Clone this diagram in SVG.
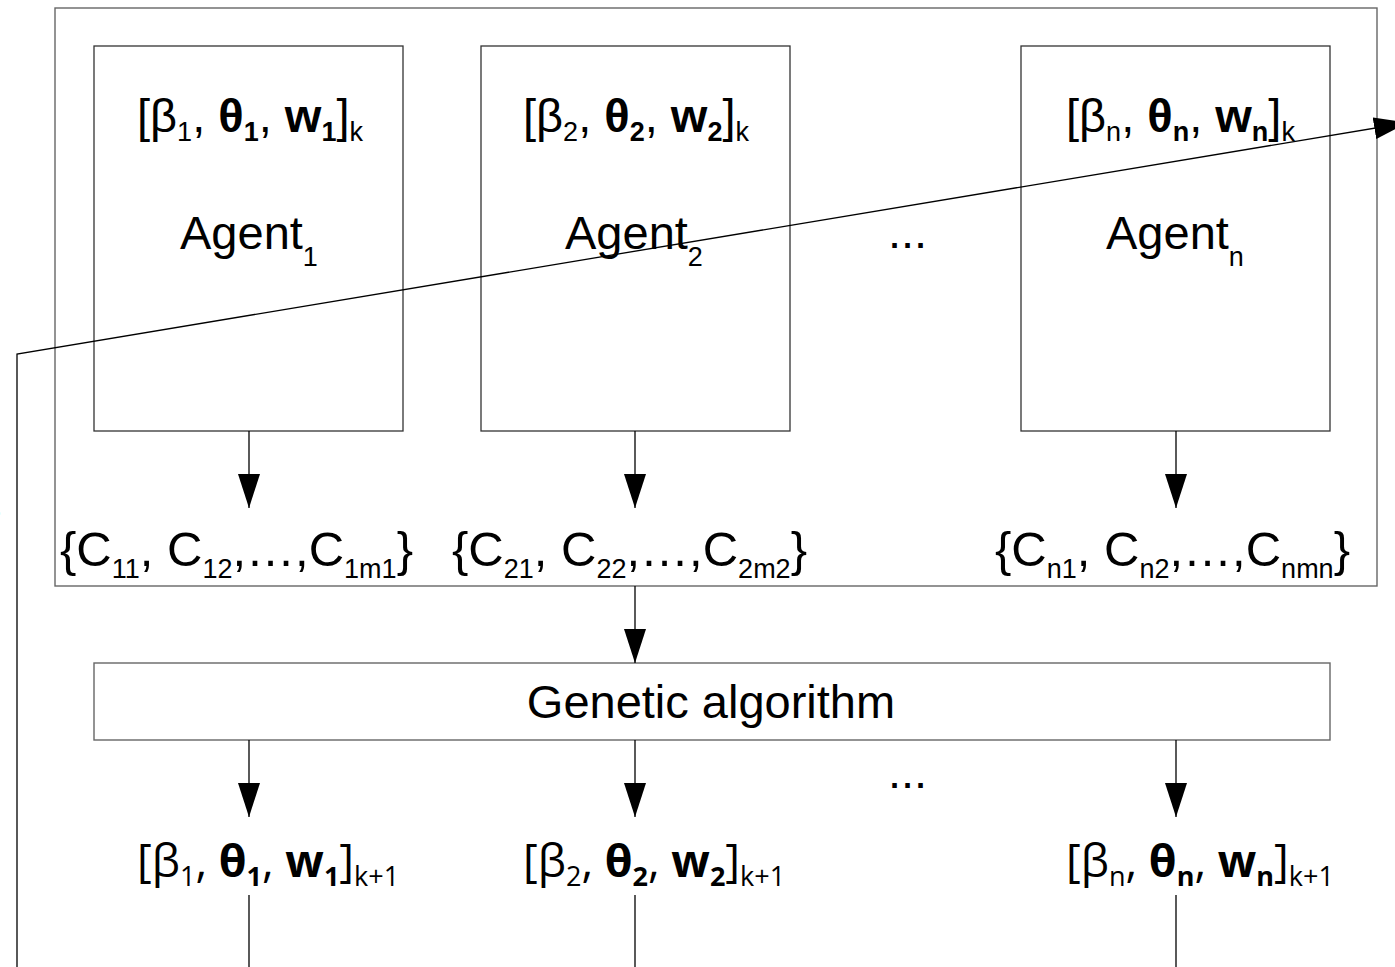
<svg xmlns="http://www.w3.org/2000/svg" width="1395" height="967" viewBox="0 0 1395 967">
  <style>
    .frame { fill: #ffffff; stroke: #666666; stroke-width: 1.4; }
    .box { fill: #ffffff; stroke: #333333; stroke-width: 1.3; }
    .edge { fill: none; stroke: #000000; stroke-width: 1.3; }
    .t { font-family: "Liberation Sans", Arial, sans-serif; font-size: 47px; fill: #000000; }
    .c { font-family: "Liberation Sans", Arial, sans-serif; font-size: 49px; fill: #000000; }
    .o { font-family: "Open Sans", "Liberation Sans", sans-serif; font-size: 45px; fill: #000000; }
    .s { font-size: 27px; }
    .b { font-weight: bold; }
  </style>
  <defs>
    <marker id="arrow" viewBox="0 0 34 22" refX="34" refY="11" markerWidth="34" markerHeight="22" markerUnits="userSpaceOnUse" orient="auto">
      <path d="M0,0 L34,11 L0,22 Z" fill="#000000"/>
    </marker>
  </defs>

  <rect width="1395" height="967" fill="#ffffff"/>

  <!-- outer population frame -->
  <g id="population">
    <rect class="frame" x="55" y="8" width="1322" height="578"/>
  </g>

  <!-- agents -->
  <g id="agent1">
    <rect class="box" x="94" y="46" width="309" height="385"/>
    <text class="t" x="137" y="132">[β<tspan class="s" dy="9">1</tspan><tspan dy="-9">, </tspan><tspan class="b">θ</tspan><tspan class="s b" dy="9">1</tspan><tspan dy="-9">, </tspan><tspan class="b">w</tspan><tspan class="s b" dy="9">1</tspan><tspan dy="-9">]</tspan><tspan class="s" dy="9">k</tspan></text>
    <text class="t" x="180" y="249">Agent<tspan class="s" dy="17">1</tspan></text>
  </g>
  <g id="agent2">
    <rect class="box" x="481" y="46" width="309" height="385"/>
    <text class="t" x="523" y="132">[β<tspan class="s" dy="9">2</tspan><tspan dy="-9">, </tspan><tspan class="b">θ</tspan><tspan class="s b" dy="9">2</tspan><tspan dy="-9">, </tspan><tspan class="b">w</tspan><tspan class="s b" dy="9">2</tspan><tspan dy="-9">]</tspan><tspan class="s" dy="9">k</tspan></text>
    <text class="t" x="565" y="249">Agent<tspan class="s" dy="17">2</tspan></text>
  </g>
  <g id="agent-dots">
    <text class="t" x="888" y="248">...</text>
  </g>
  <g id="agentn">
    <rect class="box" x="1021" y="46" width="309" height="385"/>
    <text class="t" x="1066" y="132">[β<tspan class="s" dy="9">n</tspan><tspan dy="-9">, </tspan><tspan class="b">θ</tspan><tspan class="s b" dy="9">n</tspan><tspan dy="-9">, </tspan><tspan class="b">w</tspan><tspan class="s b" dy="9">n</tspan><tspan dy="-9">]</tspan><tspan class="s" dy="9">k</tspan></text>
    <text class="t" x="1106" y="249">Agent<tspan class="s" dy="17">n</tspan></text>
  </g>

  <!-- candidate sets -->
  <g id="set1">
    <text class="c" x="60" y="566">{C<tspan class="s" dy="12">11</tspan><tspan dy="-12">, C</tspan><tspan class="s" dy="12">12</tspan><tspan dy="-12">,…,C</tspan><tspan class="s" dy="12">1m1</tspan><tspan dy="-12">}</tspan></text>
  </g>
  <g id="set2">
    <text class="c" x="452" y="566">{C<tspan class="s" dy="12">21</tspan><tspan dy="-12">, C</tspan><tspan class="s" dy="12">22</tspan><tspan dy="-12">,…,C</tspan><tspan class="s" dy="12">2m2</tspan><tspan dy="-12">}</tspan></text>
  </g>
  <g id="setn">
    <text class="c" x="995" y="566">{C<tspan class="s" dy="12">n1</tspan><tspan dy="-12">, C</tspan><tspan class="s" dy="12">n2</tspan><tspan dy="-12">,…,C</tspan><tspan class="s" dy="12">nmn</tspan><tspan dy="-12">}</tspan></text>
  </g>

  <!-- genetic algorithm -->
  <g id="ga">
    <rect class="frame" x="94" y="663" width="1236" height="77"/>
    <text class="t" x="711" y="718" text-anchor="middle">Genetic algorithm</text>
  </g>

  <!-- next generation parameters -->
  <g id="next1">
    <text class="o" x="137" y="877">[β<tspan class="s" dy="9">1</tspan><tspan dy="-9">, </tspan><tspan class="b">θ</tspan><tspan class="s b" dy="9">1</tspan><tspan dy="-9">, </tspan><tspan class="b">w</tspan><tspan class="s b" dy="9">1</tspan><tspan dy="-9">]</tspan><tspan class="s" dy="9">k+1</tspan></text>
  </g>
  <g id="next2">
    <text class="o" x="523" y="877">[β<tspan class="s" dy="9">2</tspan><tspan dy="-9">, </tspan><tspan class="b">θ</tspan><tspan class="s b" dy="9">2</tspan><tspan dy="-9">, </tspan><tspan class="b">w</tspan><tspan class="s b" dy="9">2</tspan><tspan dy="-9">]</tspan><tspan class="s" dy="9">k+1</tspan></text>
  </g>
  <g id="next-dots">
    <text class="t" x="888" y="788">...</text>
  </g>
  <g id="nextn">
    <text class="o" x="1066" y="877">[β<tspan class="s" dy="9">n</tspan><tspan dy="-9">, </tspan><tspan class="b">θ</tspan><tspan class="s b" dy="9">n</tspan><tspan dy="-9">, </tspan><tspan class="b">w</tspan><tspan class="s b" dy="9">n</tspan><tspan dy="-9">]</tspan><tspan class="s" dy="9">k+1</tspan></text>
  </g>

  <!-- label running off the left edge -->
  <text class="t" x="-19" y="519" style="font-size:30px">S</text>

  <!-- connectors -->
  <g id="connectors">
    <line class="edge" x1="249" y1="431" x2="249" y2="508" marker-end="url(#arrow)"/>
    <line class="edge" x1="635" y1="431" x2="635" y2="508" marker-end="url(#arrow)"/>
    <line class="edge" x1="1176" y1="431" x2="1176" y2="508" marker-end="url(#arrow)"/>
    <line class="edge" x1="635" y1="586" x2="635" y2="663" marker-end="url(#arrow)"/>
    <line class="edge" x1="249" y1="740" x2="249" y2="817" marker-end="url(#arrow)"/>
    <line class="edge" x1="635" y1="740" x2="635" y2="817" marker-end="url(#arrow)"/>
    <line class="edge" x1="1176" y1="740" x2="1176" y2="817" marker-end="url(#arrow)"/>
    <line class="edge" x1="249" y1="895" x2="249" y2="967"/>
    <line class="edge" x1="635" y1="895" x2="635" y2="967"/>
    <line class="edge" x1="1176" y1="895" x2="1176" y2="967"/>
    <polyline class="edge" points="17,967 17,354 1408,122.6" marker-end="url(#arrow)"/>
  </g>
</svg>
